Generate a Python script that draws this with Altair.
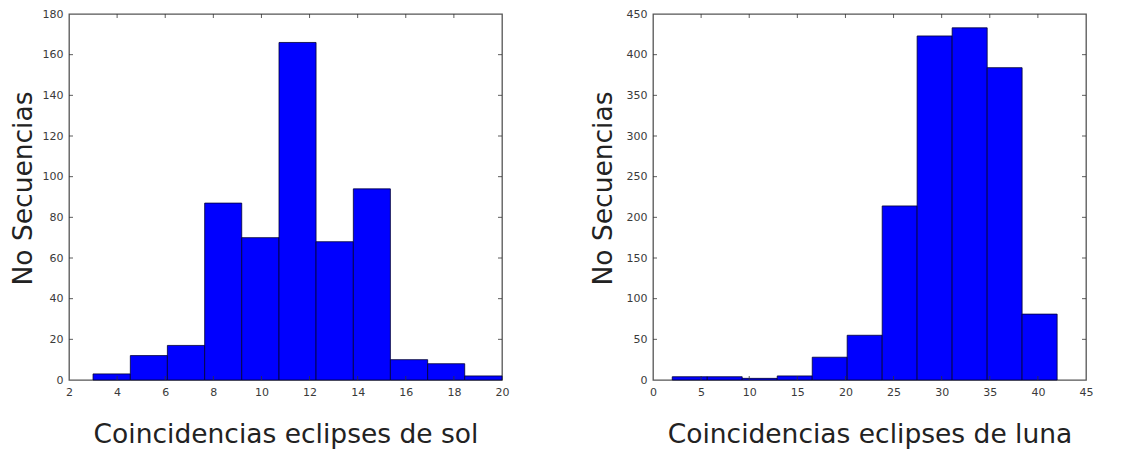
import altair as alt
import pandas as pd

# Left histogram: "Coincidencias eclipses de sol"
sol_edges = [3.0, 4.55, 6.09, 7.64, 9.18, 10.73, 12.27, 13.82, 15.36, 16.91, 18.45, 20.0]
sol_counts = [3, 12, 17, 87, 70, 166, 68, 94, 10, 8, 2]
sol_xticks = [2, 4, 6, 8, 10, 12, 14, 16, 18, 20]
sol_yticks = [0, 20, 40, 60, 80, 100, 120, 140, 160, 180]

# Right histogram: "Coincidencias eclipses de luna"
luna_edges = [2.0, 5.64, 9.27, 12.91, 16.55, 20.18, 23.82, 27.45, 31.09, 34.73, 38.36, 42.0]
luna_counts = [4, 4, 2, 5, 28, 55, 214, 423, 433, 384, 81]
luna_xticks = [0, 5, 10, 15, 20, 25, 30, 35, 40, 45]
luna_yticks = [0, 50, 100, 150, 200, 250, 300, 350, 400, 450]

W, H = 433, 366
TICK = 4


def panel(edges, counts, xticks, yticks, xtitle, ytitle_pad):
    bars = pd.DataFrame({"x0": edges[:-1], "x1": edges[1:], "n": counts, "z": [0] * len(counts)})
    xdom = [xticks[0], xticks[-1]]
    ydom = [yticks[0], yticks[-1]]
    xs = alt.Scale(domain=xdom, nice=False, zero=False)
    ys = alt.Scale(domain=ydom, nice=False)
    lab = dict(labelFont="DejaVu Sans", labelFontSize=11, labelColor="#3a3a3a",
               ticks=False, domain=False, grid=False, labelPadding=6,
               titleFont="DejaVu Sans", titleFontSize=26.5, titleFontWeight="normal",
               titleColor="#222")
    xaxis = alt.Axis(values=xticks, title=xtitle, titlePadding=24, labelFlush=False, **lab)
    yaxis = alt.Axis(values=yticks, title="No Secuencias", titlePadding=ytitle_pad,
                     titleY=174, labelFlush=False, **lab)

    rect = alt.Chart(bars).mark_rect(color="#0000ff", stroke="#000033", strokeWidth=0.8).encode(
        x=alt.X("x0:Q", scale=xs, axis=xaxis),
        x2="x1:Q",
        y=alt.Y("n:Q", scale=ys, axis=yaxis),
        y2="z:Q",
    )
    xt = pd.DataFrame({"v": xticks[1:-1]})
    yt = pd.DataFrame({"v": yticks[1:-1]})
    tstyle = dict(color="#333", strokeWidth=0.8)
    bot = alt.Chart(xt).mark_rule(**tstyle).encode(
        x=alt.X("v:Q", scale=xs), y=alt.value(H), y2=alt.value(H - TICK))
    top = alt.Chart(xt).mark_rule(**tstyle).encode(
        x=alt.X("v:Q", scale=xs), y=alt.value(0), y2=alt.value(TICK))
    lft = alt.Chart(yt).mark_rule(**tstyle).encode(
        y=alt.Y("v:Q", scale=ys), x=alt.value(0), x2=alt.value(TICK))
    rgt = alt.Chart(yt).mark_rule(**tstyle).encode(
        y=alt.Y("v:Q", scale=ys), x=alt.value(W - TICK), x2=alt.value(W))
    return alt.layer(rect, bot, top, lft, rgt).properties(width=W, height=H)


left = panel(sol_edges, sol_counts, sol_xticks, sol_yticks, "Coincidencias eclipses de sol", 5)
right = panel(luna_edges, luna_counts, luna_xticks, luna_yticks, "Coincidencias eclipses de luna", 9)

chart = alt.hconcat(left, right, spacing=79).properties(
    padding={"left": 9, "top": 7, "right": 5, "bottom": 5},
    background="white",
).configure_view(stroke="#555", strokeWidth=1.3)

chart.save("out.html", embed_options={"renderer": "svg", "actions": False})
